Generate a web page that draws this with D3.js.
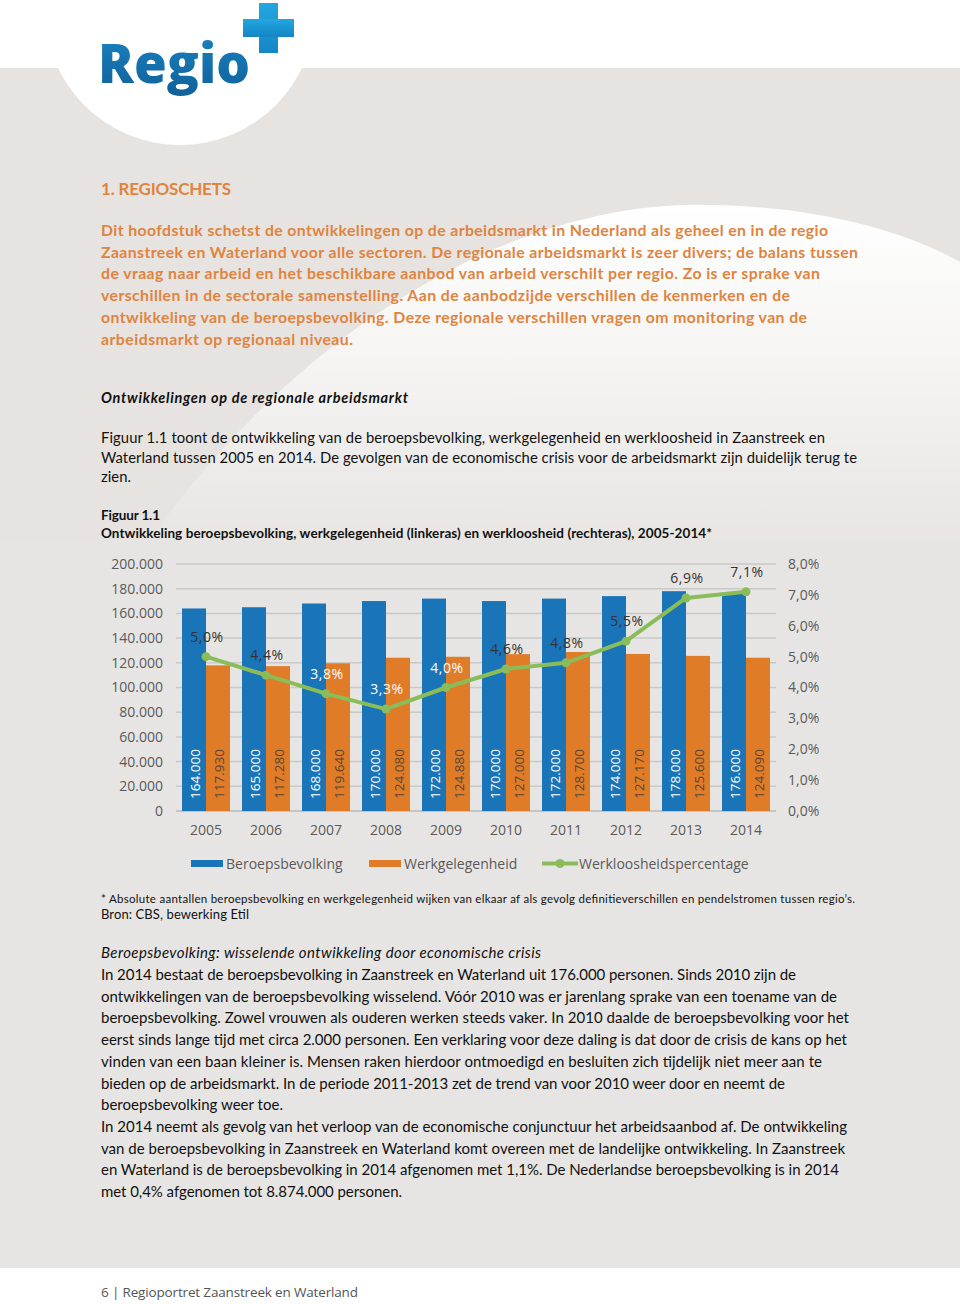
<!DOCTYPE html>
<html>
<head>
<meta charset="utf-8">
<script src="https://cdn.jsdelivr.net/npm/d3@7"></script>
<style>
html,body{margin:0;padding:0;background:#fff;}
svg{display:block;}
</style>
</head>
<body>
<div id="page"></div>
<script>
// ---------- DATA ----------
const years = ['2005','2006','2007','2008','2009','2010','2011','2012','2013','2014'];
const beroepsbevolking = [164000,165000,168000,170000,172000,170000,172000,174000,178000,176000];
const werkgelegenheid = [117930,117280,119640,124080,124880,127000,128700,127170,125600,124090];
const werkloosheid = [5.0,4.4,3.8,3.3,4.0,4.6,4.8,5.5,6.9,7.1];
const leftTicks = [0,20000,40000,60000,80000,100000,120000,140000,160000,180000,200000];
const rightTicks = [0,1,2,3,4,5,6,7,8];
const seriesNames = ['Beroepsbevolking','Werkgelegenheid','Werkloosheidspercentage'];

// ---------- TEXT ----------
const chapterTitle = '1. REGIOSCHETS';
const introLines = [
 'Dit hoofdstuk schetst de ontwikkelingen op de arbeidsmarkt in Nederland als geheel en in de regio',
 'Zaanstreek en Waterland voor alle sectoren. De regionale arbeidsmarkt is zeer divers; de balans tussen',
 'de vraag naar arbeid en het beschikbare aanbod van arbeid verschilt per regio. Zo is er sprake van',
 'verschillen in de sectorale samenstelling. Aan de aanbodzijde verschillen de kenmerken en de',
 'ontwikkeling van de beroepsbevolking. Deze regionale verschillen vragen om monitoring van de',
 'arbeidsmarkt op regionaal niveau.'
];
const sectionTitle = 'Ontwikkelingen op de regionale arbeidsmarkt';
const para1Lines = [
 'Figuur 1.1 toont de ontwikkeling van de beroepsbevolking, werkgelegenheid en werkloosheid in Zaanstreek en',
 'Waterland tussen 2005 en 2014. De gevolgen van de economische crisis voor de arbeidsmarkt zijn duidelijk terug te',
 'zien.'
];
const figLabel = 'Figuur 1.1';
const figTitle = 'Ontwikkeling beroepsbevolking, werkgelegenheid (linkeras) en werkloosheid (rechteras), 2005-2014*';
const footnote = '* Absolute aantallen beroepsbevolking en werkgelegenheid wijken van elkaar af als gevolg definitieverschillen en pendelstromen tussen regio’s.';
const source = 'Bron: CBS, bewerking Etil';
const subTitle = 'Beroepsbevolking: wisselende ontwikkeling door economische crisis';
const bodyLines = [
 'In 2014 bestaat de beroepsbevolking in Zaanstreek en Waterland uit 176.000 personen. Sinds 2010 zijn de',
 'ontwikkelingen van de beroepsbevolking wisselend. Vóór 2010 was er jarenlang sprake van een toename van de',
 'beroepsbevolking. Zowel vrouwen als ouderen werken steeds vaker. In 2010 daalde de beroepsbevolking voor het',
 'eerst sinds lange tijd met circa 2.000 personen. Een verklaring voor deze daling is dat door de crisis de kans op het',
 'vinden van een baan kleiner is. Mensen raken hierdoor ontmoedigd en besluiten zich tijdelijk niet meer aan te',
 'bieden op de arbeidsmarkt. In de periode 2011-2013 zet de trend van voor 2010 weer door en neemt de',
 'beroepsbevolking weer toe.',
 'In 2014 neemt als gevolg van het verloop van de economische conjunctuur het arbeidsaanbod af. De ontwikkeling',
 'van de beroepsbevolking in Zaanstreek en Waterland komt overeen met de landelijke ontwikkeling. In Zaanstreek',
 'en Waterland is de beroepsbevolking in 2014 afgenomen met 1,1%. De Nederlandse beroepsbevolking is in 2014',
 'met 0,4% afgenomen tot 8.874.000 personen.'
];
const footerText = '6 | Regioportret Zaanstreek en Waterland';

// ---------- LAYOUT (line widths in px) ----------
const introWidths = [727,757,719,689,706,252];
const para1Widths = [724,756,30];
const bodyWidths = [695,736,748,746,721,684,182,746,744,738,301];

// ---------- DRAW ----------
const W = 960, H = 1304;
const svg = d3.select('#page').append('svg').attr('width', W).attr('height', H);
const defs = svg.append('defs');

const sw = defs.append('linearGradient').attr('id','swoosh').attr('gradientUnits','userSpaceOnUse')
  .attr('x1',0).attr('y1',205).attr('x2',0).attr('y2',570);
sw.append('stop').attr('offset',0).attr('stop-color','#fff').attr('stop-opacity',1);
sw.append('stop').attr('offset',0.45).attr('stop-color','#fff').attr('stop-opacity',0.6);
sw.append('stop').attr('offset',1).attr('stop-color','#fff').attr('stop-opacity',0);

const lg = defs.append('linearGradient').attr('id','logoG').attr('x1',0).attr('y1',0).attr('x2',0).attr('y2',1);
lg.append('stop').attr('offset',0).attr('stop-color','#1b86c4');
lg.append('stop').attr('offset',1).attr('stop-color','#0f5f98');
const pg = defs.append('linearGradient').attr('id','plusG').attr('x1',0).attr('y1',0).attr('x2',0).attr('y2',1);
pg.append('stop').attr('offset',0).attr('stop-color','#22a7e0');
pg.append('stop').attr('offset',1).attr('stop-color','#1585c5');

// background
svg.append('rect').attr('x',0).attr('y',0).attr('width',W).attr('height',H).attr('fill','#ffffff');
svg.append('rect').attr('x',0).attr('y',68).attr('width',W).attr('height',1200).attr('fill','#e6e3e0');
svg.append('path').attr('d','M 110 600 C 250 370, 470 214, 680 205 C 800 202, 900 228, 960 262 L 960 600 Z')
  .attr('fill','url(#swoosh)');
svg.append('rect').attr('x',0).attr('y',540).attr('width',W).attr('height',728).attr('fill','#e7e5e3');
svg.append('circle').attr('cx',180).attr('cy',10).attr('r',135).attr('fill','#ffffff');

// logo
svg.append('text').attr('x',98).attr('y',83).attr('font-family','Open Sans').attr('font-weight',800)
  .attr('font-size',55).attr('fill','url(#logoG)').attr('textLength',152).attr('lengthAdjust','spacingAndGlyphs').text('Regio');
svg.append('rect').attr('x',259).attr('y',3).attr('width',19).attr('height',50).attr('fill','url(#plusG)');
svg.append('rect').attr('x',243).attr('y',19).attr('width',51).attr('height',18).attr('fill','url(#plusG)');

// text helper
function addLines(lines, x, y0, lh, widths, opts){
  lines.forEach((t,i)=>{
    const el = svg.append('text').attr('x',x).attr('y',y0+i*lh)
      .attr('font-family',opts.family||'Lato').attr('font-size',opts.size)
      .attr('font-weight',opts.weight||400).attr('font-style',opts.style||'normal')
      .attr('fill',opts.fill).text(t);
    if (widths && widths[i]) el.attr('textLength',widths[i]).attr('lengthAdjust','spacing');
  });
}
const orange = '#e0843f';
addLines([chapterTitle],101,195,0,[130],{size:17,weight:700,fill:orange});
addLines(introLines,101,236,21.7,introWidths,{size:15.8,weight:700,fill:orange});
addLines([sectionTitle],101,403,0,[307],{size:14.5,weight:700,style:'italic',fill:'#111'});
addLines(para1Lines,101,443,19.7,para1Widths,{size:14.8,fill:'#111'});
addLines([figLabel],101,520,0,[59],{size:13.5,weight:700,fill:'#111'});
addLines([figTitle],101,538,0,[611],{size:13.5,weight:700,fill:'#111'});
addLines([footnote],101,903,0,[754],{size:11.5,fill:'#111'});
addLines([source],101,919,0,[148],{size:13,fill:'#111'});
addLines([subTitle],101,958,0,[440],{size:15,style:'italic',fill:'#111'});
addLines(bodyLines,101,980,21.7,bodyWidths,{size:15,fill:'#111'});
svg.append('rect').attr('x',0).attr('y',1268).attr('width',W).attr('height',36).attr('fill','#fff');
addLines([footerText],101,1297,0,[257],{size:13.5,family:'Open Sans',fill:'#555'});

// ---------- CHART ----------
const nl = d3.formatLocale({decimal:',', thousands:'.', grouping:[3], currency:['€','']});
const fmtN = nl.format(',.0f');
const fmtP = v => nl.format('.1f')(v) + '%';

const x = d3.scaleBand().domain(years).range([176,776]).paddingInner(0.2).paddingOuter(0.1);
const x1 = d3.scaleBand().domain([0,1]).range([0,x.bandwidth()]);
const y = d3.scaleLinear().domain([0,200000]).range([811,564]);
const y2 = d3.scaleLinear().domain([0,8]).range([811,564]);
const chartFont = 'Open Sans';
const colors = ['#1a75b8','#e07b27','#8abd5a'];
const axisGrey = '#5a5a5a';

const g = svg.append('g');
// gridlines
g.append('g').selectAll('line').data(leftTicks).join('line')
  .attr('x1',176).attr('x2',776).attr('y1',d=>y(d)).attr('y2',d=>y(d))
  .attr('stroke',d=>d===0?'#b8b8b8':'#c9c9c9').attr('stroke-width',1.5);

// left axis
const ya = d3.axisLeft(y).tickValues(leftTicks).tickFormat(fmtN).tickSize(0).tickPadding(0);
const yag = g.append('g').attr('transform','translate(163,0)').call(ya);
yag.select('.domain').remove();
yag.selectAll('text').attr('font-family',chartFont).attr('font-size',14).attr('fill',axisGrey);

// right axis
const ra = d3.axisRight(y2).tickValues(rightTicks).tickFormat(d=>nl.format('.1f')(d)+'%').tickSize(0).tickPadding(0);
const rag = g.append('g').attr('transform','translate(788,0)').call(ra);
rag.select('.domain').remove();
rag.selectAll('text').attr('font-family',chartFont).attr('font-size',14).attr('fill',axisGrey);

// bottom axis
const xa = d3.axisBottom(x).tickSize(0).tickPadding(0);
const xag = g.append('g').attr('transform','translate(0,821)').call(xa);
xag.select('.domain').remove();
xag.selectAll('text').attr('font-family',chartFont).attr('font-size',14).attr('fill',axisGrey).attr('dy','1em');

// bars
const series = [beroepsbevolking, werkgelegenheid];
series.forEach((vals, si)=>{
  g.append('g').selectAll('rect').data(vals).join('rect')
    .attr('x',(d,i)=>x(years[i])+x1(si)).attr('width',x1.bandwidth())
    .attr('y',d=>y(d)).attr('height',d=>y(0)-y(d)).attr('fill',colors[si]);
  g.append('g').selectAll('text').data(vals).join('text')
    .attr('transform',(d,i)=>`translate(${x(years[i])+x1(si)+x1.bandwidth()/2+1},${y(0)-12}) rotate(-90)`)
    .attr('dominant-baseline','central')
    .attr('font-family',chartFont).attr('font-size',13.5)
    .attr('fill', si===0 ? '#ffffff' : '#5b4630')
    .text(d=>fmtN(d));
});

// line
const cx = i => x(years[i]) + x.bandwidth()/2;
const line = d3.line().x((d,i)=>cx(i)).y(d=>y2(d));
g.append('path').datum(werkloosheid).attr('d',line).attr('fill','none')
  .attr('stroke',colors[2]).attr('stroke-width',4).attr('stroke-linejoin','round');
g.append('g').selectAll('circle').data(werkloosheid).join('circle')
  .attr('cx',(d,i)=>cx(i)).attr('cy',d=>y2(d)).attr('r',4.5).attr('fill',colors[2]);
const lightLabels = new Set([2,3,4]);
g.append('g').selectAll('text').data(werkloosheid).join('text')
  .attr('x',(d,i)=>cx(i)+1).attr('y',d=>y2(d)-15)
  .attr('text-anchor','middle').attr('font-family',chartFont).attr('font-size',14)
  .attr('letter-spacing',0.6)
  .attr('fill',(d,i)=>lightLabels.has(i)?'#ffffff':'#333333')
  .text(d=>fmtP(d));

// legend
const leg = svg.append('g');
const legItems = [{x:191, tx:226},{x:369, tx:404},{x:542, tx:579}];
seriesNames.forEach((name,i)=>{
  const it = legItems[i];
  if (i<2) {
    leg.append('rect').attr('x',it.x).attr('y',860).attr('width',32).attr('height',7).attr('fill',colors[i]);
  } else {
    leg.append('line').attr('x1',it.x).attr('x2',it.x+36).attr('y1',863.5).attr('y2',863.5)
      .attr('stroke',colors[2]).attr('stroke-width',4);
    leg.append('circle').attr('cx',it.x+18).attr('cy',863.5).attr('r',4.5).attr('fill',colors[2]);
  }
  leg.append('text').attr('x',it.tx).attr('y',869).attr('font-family',chartFont).attr('font-size',14)
    .attr('fill',axisGrey).text(name);
});
</script>
</body>
</html>
